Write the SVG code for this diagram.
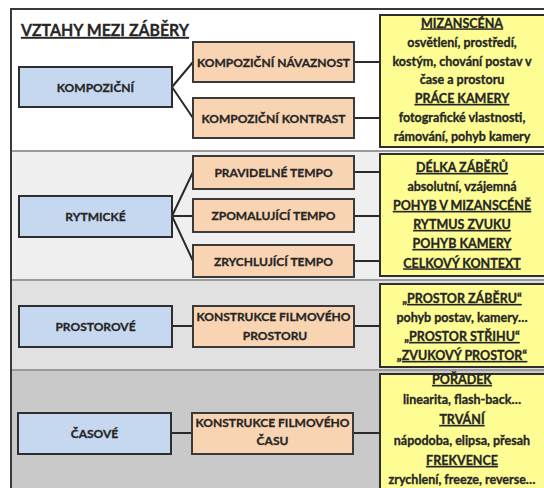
<svg xmlns="http://www.w3.org/2000/svg" width="544" height="488" viewBox="0 0 544 488">
<style>
text{font-family:Lato,"Liberation Sans",sans-serif;font-weight:bold;fill:#262626;stroke:#262626;stroke-width:0.3;text-anchor:middle}
.cat{fill:#c6d8f0;stroke:#2e2e2e;stroke-width:2}
.sub{fill:#f9d4b2;stroke:#3a3a3a;stroke-width:2}
.info{fill:#fdfd93;stroke:#2e2e2e;stroke-width:2}
.t{font-size:12px}
.y{font-size:12.5px}
.u{text-decoration:underline}
.conn{stroke:#2a2a2a;stroke-width:2;fill:none}
.sep{stroke:#9a9a9a;stroke-width:2}
</style>
<rect x="0" y="0" width="544" height="488" fill="#ffffff"/>
<g id="background">
<rect x="11" y="9" width="540" height="142" fill="#ffffff"/>
<rect x="11" y="151" width="540" height="129" fill="#efefef"/>
<rect x="11" y="280" width="540" height="90" fill="#e1e1e1"/>
<rect x="11" y="370" width="540" height="120" fill="#c9c9c9"/>
<line class="sep" x1="11" y1="151" x2="544" y2="151"/>
<line class="sep" x1="11" y1="280" x2="544" y2="280"/>
<line class="sep" x1="11" y1="370" x2="544" y2="370"/>
<path d="M11 490 V9 H546" fill="none" stroke="#3a3a3a" stroke-width="2"/>
</g>
<g id="title">
<text x="21" y="36" style="font-size:17px;text-anchor:start" class="u" textLength="168" lengthAdjust="spacingAndGlyphs">VZTAHY MEZI ZÁBĚRY</text>
</g>
<g id="connectors">
<path class="conn" d="M172 87 L193 62 M172 87 L193 118"/>
<path class="conn" d="M354 62 H380 M354 118 H380"/>
<path class="conn" d="M172 216 L193 172 M172 216 H193 M172 216 L193 261"/>
<path class="conn" d="M354 172 H380 M354 216 H380 M354 261 H380"/>
<path class="conn" d="M172 326 H193 M354 326 H380"/>
<path class="conn" d="M172 433 H193 M354 433 H380"/>
</g>
<g id="kompozicni">
<rect class="cat" x="19" y="67" width="153" height="40"/>
<text class="t" x="95.5" y="92">KOMPOZIČNÍ</text>
</g>
<g id="rytmicke">
<rect class="cat" x="19" y="196" width="153" height="41"/>
<text class="t" x="95.5" y="221">RYTMICKÉ</text>
</g>
<g id="prostorove">
<rect class="cat" x="19" y="306" width="153" height="41"/>
<text class="t" x="95.5" y="331">PROSTOROVÉ</text>
</g>
<g id="casove">
<rect class="cat" x="18" y="413" width="153" height="41"/>
<text class="t" x="94.5" y="438">ČASOVÉ</text>
</g>
<g id="navaznost">
<rect class="sub" x="193" y="42" width="161" height="40"/>
<text class="t" x="273.5" y="66.5">KOMPOZIČNÍ NÁVAZNOST</text>
</g>
<g id="kontrast">
<rect class="sub" x="193" y="98" width="161" height="40"/>
<text class="t" x="273.5" y="122.5">KOMPOZIČNÍ KONTRAST</text>
</g>
<g id="pravidelne">
<rect class="sub" x="193" y="156" width="161" height="33"/>
<text class="t" x="273.5" y="177">PRAVIDELNÉ TEMPO</text>
</g>
<g id="zpomalujici">
<rect class="sub" x="193" y="199" width="161" height="33"/>
<text class="t" x="273.5" y="220">ZPOMALUJÍCÍ TEMPO</text>
</g>
<g id="zrychlujici">
<rect class="sub" x="193" y="245" width="161" height="32"/>
<text class="t" x="273.5" y="265.5">ZRYCHLUJÍCÍ TEMPO</text>
</g>
<g id="konstrukce-prostoru">
<rect class="sub" x="193" y="306" width="161" height="41"/>
<text class="t" x="273.5" y="321">KONSTRUKCE FILMOVÉHO</text>
<text class="t" x="275" y="339.5">PROSTORU</text>
</g>
<g id="konstrukce-casu">
<rect class="sub" x="192" y="413" width="161" height="41"/>
<text class="t" x="272.5" y="427">KONSTRUKCE FILMOVÉHO</text>
<text class="t" x="272.5" y="445">ČASU</text>
</g>
<g id="info-kompozicni">
<rect class="info" x="380" y="15" width="170" height="132"/>
<text class="y u" x="462" y="27.5">MIZANSCÉNA</text>
<text class="y" x="462" y="46.5">osvětlení, prostředí,</text>
<text class="y" x="462" y="65.5">kostým, chování postav v</text>
<text class="y" x="462" y="84">čase a prostoru</text>
<text class="y u" x="462" y="103">PRÁCE KAMERY</text>
<text class="y" x="462" y="122">fotografické vlastnosti,</text>
<text class="y" x="462" y="140.5">rámování, pohyb kamery</text>
</g>
<g id="info-rytmicke">
<rect class="info" x="380" y="154" width="170" height="122"/>
<text class="y u" x="462" y="172">DÉLKA ZÁBĚRŮ</text>
<text class="y" x="462" y="191">absolutní, vzájemná</text>
<text class="y u" x="462" y="210">POHYB V MIZANSCÉNĚ</text>
<text class="y u" x="462" y="229">RYTMUS ZVUKU</text>
<text class="y u" x="462" y="248">POHYB KAMERY</text>
<text class="y u" x="462" y="267.5">CELKOVÝ KONTEXT</text>
</g>
<g id="info-prostorove">
<rect class="info" x="380" y="284" width="170" height="83"/>
<text class="y u" x="462" y="303">„PROSTOR ZÁBĚRU“</text>
<text class="y" x="462" y="322">pohyb postav, kamery…</text>
<text class="y u" x="462" y="341">„PROSTOR STŘIHU“</text>
<text class="y u" x="462" y="360">„ZVUKOVÝ PROSTOR“</text>
</g>
<g id="info-casove">
<rect class="info" x="380" y="374" width="170" height="124"/>
<text class="y u" x="462" y="384">POŘADEK</text>
<text class="y" x="462" y="404">linearita, flash-back…</text>
<text class="y u" x="462" y="424">TRVÁNÍ</text>
<text class="y" x="462" y="445">nápodoba, elipsa, přesah</text>
<text class="y u" x="462" y="465">FREKVENCE</text>
<text class="y" x="462" y="484">zrychlení, freeze, reverse…</text>
</g>
</svg>
